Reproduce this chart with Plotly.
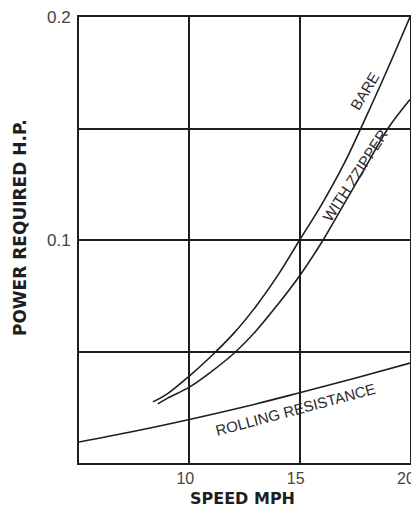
import plotly.graph_objects as go

# Data
speed_bare = [8.35, 9.0, 10.0, 11.0, 12.0, 13.0, 14.0, 15.0, 16.0, 17.0, 18.0, 19.0, 20.0]
power_bare = [0.0274, 0.031, 0.039, 0.048, 0.058, 0.070, 0.084, 0.100, 0.116, 0.134, 0.155, 0.177, 0.200]

speed_zipper = [8.57, 9.0, 10.0, 11.0, 12.0, 13.0, 14.0, 15.0, 16.0, 17.0, 18.0, 19.0, 20.0]
power_zipper = [0.0265, 0.029, 0.034, 0.041, 0.049, 0.059, 0.071, 0.084, 0.099, 0.116, 0.133, 0.150, 0.163]

speed_rolling = [5.0, 7.5, 10.0, 12.5, 15.0, 17.5, 20.0]
power_rolling = [0.0094, 0.0142, 0.0195, 0.0252, 0.0315, 0.0380, 0.0448]

x_tickvals = [5, 10, 15, 20]
x_ticktext = ["", "10", "15", "20"]
y_tickvals = [0, 0.05, 0.1, 0.15, 0.2]
y_ticktext = ["", "", "0.1", "", "0.2"]

FONT = "Liberation Sans"
LINE = "#1e1e1e"

fig = go.Figure()
for xs, ys in [(speed_bare, power_bare), (speed_zipper, power_zipper), (speed_rolling, power_rolling)]:
    fig.add_trace(go.Scatter(x=xs, y=ys, mode="lines",
                             line=dict(color=LINE, width=1.6, shape="spline", smoothing=1.0),
                             showlegend=False, hoverinfo="skip"))

labels = [
    ("BARE", 17.92, 0.1668, -59),
    ("WITH ZZIPPER", 17.5, 0.129, -57),
    ("ROLLING RESISTANCE", 14.8, 0.0242, -15),
]
for text, x, y, ang in labels:
    fig.add_annotation(x=x, y=y, text=text, showarrow=False, textangle=ang,
                       xanchor="center", yanchor="middle",
                       font=dict(family=FONT, size=15, color="#2a2a2a"))

# axis titles
fig.add_annotation(xref="paper", yref="paper", x=-0.178, y=0.527,
                   xanchor="center", yanchor="middle",
                   text="<b>POWER REQUIRED H.P.</b>", textangle=-90, showarrow=False,
                   font=dict(family="DejaVu Sans", size=17, color=LINE))
fig.add_annotation(xref="paper", yref="paper", x=0.495, y=-0.0785,
                   xanchor="center", yanchor="middle",
                   text="<b>SPEED MPH</b>", showarrow=False,
                   font=dict(family="DejaVu Sans", size=16, color=LINE))

fig.update_xaxes(range=[5, 20], tickvals=x_tickvals, ticktext=x_ticktext,
                 showgrid=True, gridcolor=LINE, gridwidth=1.5,
                 showline=True, linecolor=LINE, linewidth=1.8, mirror=True,
                 zeroline=False, ticks="", automargin=False,
                 ticklabeloverflow="allow", ticklabelshift=-4,
                 tickfont=dict(family=FONT, size=16, color="#444444"))
fig.update_yaxes(range=[0, 0.2], tickvals=y_tickvals, ticktext=y_ticktext,
                 showgrid=True, gridcolor=LINE, gridwidth=1.5,
                 showline=True, linecolor=LINE, linewidth=1.8, mirror=True,
                 zeroline=False, ticks="outside", ticklen=3, tickcolor="rgba(0,0,0,0)",
                 automargin=False, ticklabeloverflow="allow",
                 tickfont=dict(family=FONT, size=17, color="#444444"))

# page body has an 8px margin on every side: size the figure so the page
# fits the 419x513 window exactly (no scrollbars)
fig.update_layout(width=403, height=497,
                  margin=dict(l=71, r=1, t=9, b=42),
                  plot_bgcolor="white", paper_bgcolor="white")

fig.write_html("out.html")
